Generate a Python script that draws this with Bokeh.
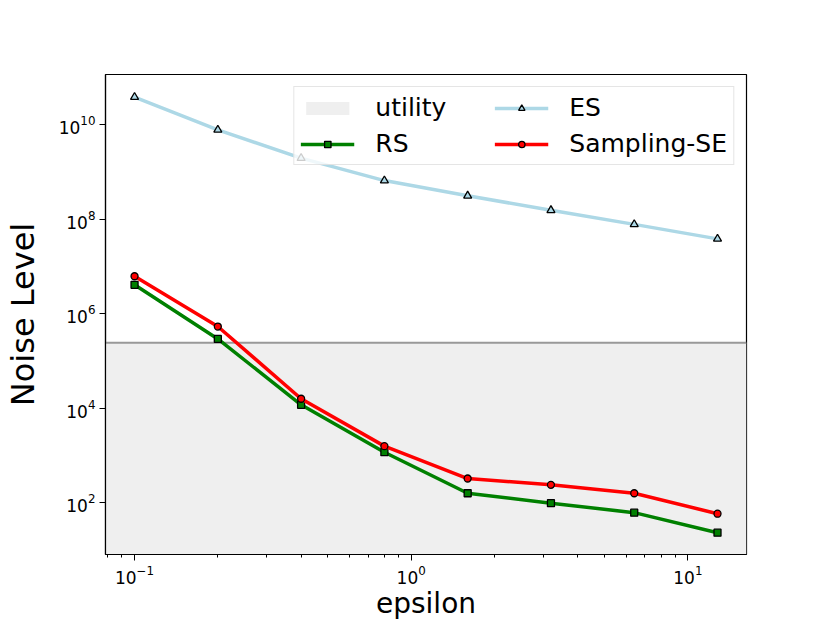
from bokeh.plotting import figure
from bokeh.models import FixedTicker, Legend, LegendItem, Range1d
from bokeh.embed import file_html
from bokeh.resources import INLINE

# ---- data ----
epsilon = [0.1, 0.2, 0.4, 0.8, 1.6, 3.2, 6.4, 12.8]
es = [3.8e10, 7.7e9, 1.94e9, 6.5e8, 3.1e8, 1.53e8, 7.7e7, 3.8e7]
rs = [4.05e6, 2.9e5, 1.17e4, 1.16e3, 157, 97, 61, 23]
sampling_se = [6.15e6, 5.3e5, 1.57e4, 1.56e3, 322, 237, 157, 58]
utility_level = 2.4e5

x_ticks = [0.1, 1, 10]
x_minor = [0.08, 0.09] + [k * 0.1 for k in range(2, 10)] + [k * 1.0 for k in range(2, 10)] + [k * 10.0 for k in range(2, 10)]
y_ticks = [1e2, 1e4, 1e6, 1e8, 1e10]

x_lo, x_hi = 10 ** -1.105, 10 ** 1.212
y_lo, y_hi = 10 ** 0.9, 10 ** 11.058

FONT = "DejaVu Sans"

p = figure(width=822, height=623, x_axis_type="log", y_axis_type="log",
           x_range=Range1d(x_lo, x_hi), y_range=Range1d(y_lo, y_hi),
           output_backend="svg", toolbar_location=None,
           min_border_left=104, min_border_right=76, min_border_top=74, min_border_bottom=69)

p.background_fill_color = "white"
p.border_fill_color = "white"
p.outline_line_color = "black"
p.outline_line_width = 1.2
p.xgrid.visible = False
p.ygrid.visible = False

# utility region
r_util = p.varea(x=[x_lo, x_hi], y1=[y_lo, y_lo], y2=[utility_level, utility_level],
                 fill_color="#efefef")
p.line(x=[x_lo, x_hi], y=[utility_level, utility_level], line_color="#999999", line_width=2)

# series
r_es = p.line(epsilon, es, line_color="#add8e6", line_width=3.5)
m_es = p.scatter(epsilon, es, marker="triangle", size=8, fill_color="#add8e6",
                 line_color="black", line_width=1.3)
r_rs = p.line(epsilon, rs, line_color="#008000", line_width=3.5)
m_rs = p.scatter(epsilon, rs, marker="square", size=7, fill_color="#008000",
                 line_color="black", line_width=1.3)
r_se = p.line(epsilon, sampling_se, line_color="#ff0000", line_width=3.5)
m_se = p.scatter(epsilon, sampling_se, marker="circle", size=7, fill_color="#ff0000",
                 line_color="black", line_width=1.3)

# axes
p.xaxis.ticker = FixedTicker(ticks=x_ticks, minor_ticks=x_minor)
p.yaxis.ticker = FixedTicker(ticks=y_ticks, minor_ticks=[])
for ax in (p.xaxis, p.yaxis):
    ax.axis_line_color = "black"
    ax.axis_line_width = 1.2
    ax.major_tick_line_color = "black"
    ax.minor_tick_line_color = "black"
    ax.major_tick_in = 0
    ax.major_tick_out = 6
    ax.minor_tick_in = 0
    ax.minor_tick_out = 3
    ax.major_label_text_font = FONT
    ax.major_label_text_font_size = "17px"
    ax.major_label_text_color = "black"
    ax.major_label_standoff = 4
    ax.axis_label_text_font = FONT
    ax.axis_label_text_font_style = "normal"
    ax.axis_label_text_color = "black"

p.xaxis.axis_label = "epsilon"
p.xaxis.axis_label_text_font_size = "28px"
p.xaxis.axis_label_standoff = 0
p.yaxis.axis_label = "Noise Level"
p.yaxis.axis_label_text_font_size = "32px"
p.yaxis.axis_label_standoff = 14

legend = Legend(items=[
    LegendItem(label="utility", renderers=[r_util]),
    LegendItem(label="RS", renderers=[r_rs, m_rs]),
    LegendItem(label="ES", renderers=[r_es, m_es]),
    LegendItem(label="Sampling-SE", renderers=[r_se, m_se]),
], location="top_right", ncols=2)
legend.margin = 12
legend.padding = 6
legend.spacing = 7
legend.glyph_width = 54
legend.glyph_height = 16
legend.label_height = 24
legend.label_width = 112
legend.label_standoff = 21
legend.label_text_font = FONT
legend.label_text_font_size = "25px"
legend.label_text_color = "black"
legend.border_line_color = "#cccccc"
legend.border_line_width = 1.5
legend.background_fill_alpha = 0.8
p.add_layout(legend)

open("out.html", "w").write(file_html(p, INLINE))
